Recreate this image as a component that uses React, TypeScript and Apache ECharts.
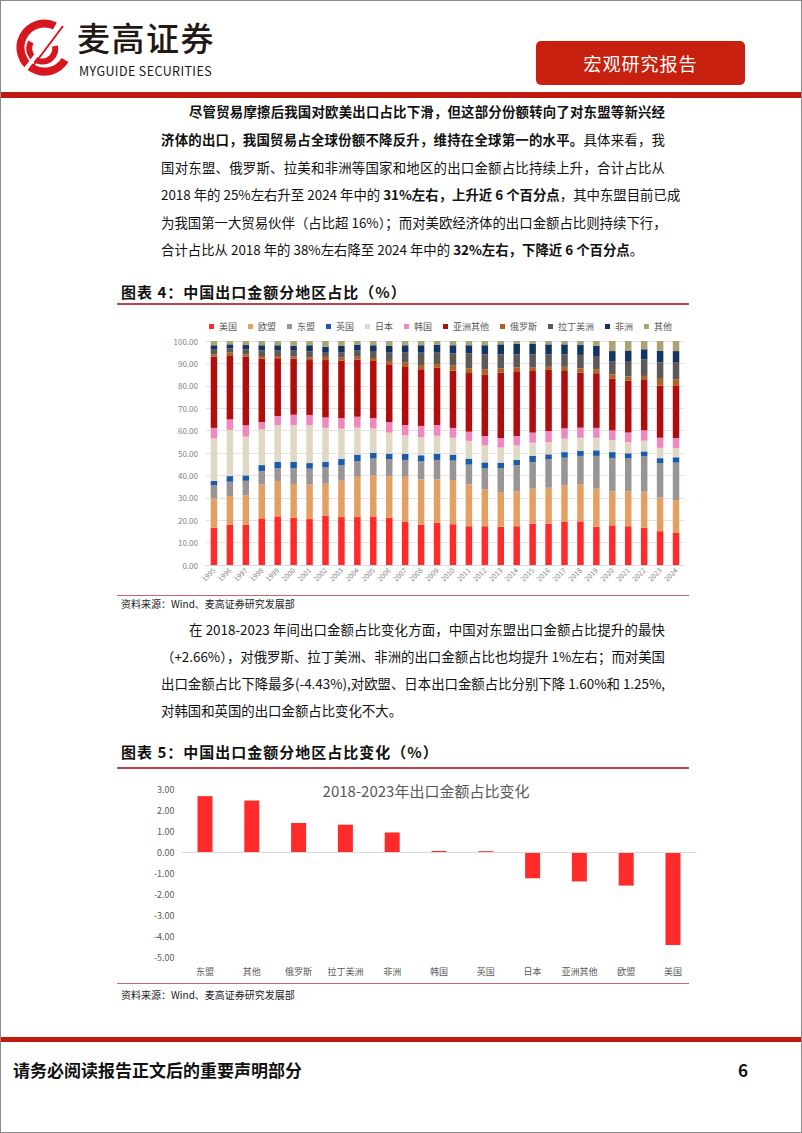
import React, { useEffect, useRef } from "react";
import * as echarts from "echarts";

const years = ["1995","1996","1997","1998","1999","2000","2001","2002","2003","2004","2005","2006","2007","2008","2009","2010","2011","2012","2013","2014","2015","2016","2017","2018","2019","2020","2021","2022","2023","2024"];
const seriesNames = ["美国","欧盟","东盟","英国","日本","韩国","亚洲其他","俄罗斯","拉丁美洲","非洲","其他"];
const seriesColors = ["#FF2B2B","#E4A063","#9A9494","#1B5BAA","#DED8C5","#EE88BE","#B00E0E","#AE6322","#5E5856","#143563","#ADA274"];
const usShare = [16.7,18.0,18.0,20.8,21.7,21.1,20.5,21.9,21.4,21.4,21.7,21.1,19.2,18.0,18.8,18.2,17.3,17.3,17.1,17.3,18.5,18.5,19.2,19.5,17.1,17.7,17.3,16.7,15.1,14.3];
const euShare = [13.1,12.8,13.1,15.2,15.8,15.1,15.4,14.4,16.2,18.0,18.3,18.6,20.2,20.2,19.4,19.7,18.7,16.5,15.2,15.7,15.6,16.0,16.4,16.4,17.0,15.2,15.6,16.0,15.0,14.7];
const aseanShare = [5.9,6.4,6.5,6.0,5.7,7.0,7.1,7.3,6.9,7.0,7.6,7.5,7.5,8.1,8.7,8.7,8.8,9.5,10.9,11.6,11.9,12.7,12.3,12.8,14.6,14.9,14.6,15.8,15.3,16.7];
const ukShare = [1.8,2.5,2.4,2.6,2.8,2.8,2.5,2.5,2.8,2.9,2.5,2.5,2.7,2.7,2.8,2.7,2.7,2.5,2.5,2.3,2.7,2.2,2.5,2.3,2.5,2.6,2.4,2.2,2.3,2.4];
const japanShare = [19.0,20.6,17.3,16.0,16.4,16.5,16.9,15.2,13.6,12.0,10.8,9.4,8.3,8.0,8.0,7.5,7.9,7.6,6.7,6.5,5.9,5.5,6.0,5.8,5.6,5.4,5.0,4.8,4.6,4.1];
const koreaShare = [4.7,4.7,5.1,3.2,4.1,4.6,4.6,4.6,4.7,4.9,4.7,4.7,4.6,5.1,4.8,4.4,4.1,4.2,4.3,4.2,4.5,4.9,4.6,4.5,4.4,4.3,4.2,4.6,4.5,4.5];
const asiaOtherShare = [31.8,28.3,30.6,28.3,25.8,25.0,24.5,25.6,25.6,25.5,25.5,25.8,25.9,25.3,25.7,25.6,26.2,27.5,29.2,28.9,27.5,27.3,25.6,24.6,24.4,23.2,23.3,22.8,23.3,23.5];
const russiaShare = [1.0,1.5,1.0,1.2,1.0,0.9,1.1,1.4,1.4,1.3,1.3,1.5,1.9,1.9,1.5,2.2,2.1,2.3,1.9,1.7,1.5,1.4,1.9,1.9,1.8,1.8,1.8,1.5,3.0,2.7];
const latamShare = [2.1,1.8,2.3,2.5,2.4,2.7,2.8,2.2,2.2,2.7,3.1,3.7,4.5,5.5,5.1,5.5,6.7,6.6,6.2,5.8,5.9,5.5,5.5,6.0,5.9,5.7,6.9,7.4,7.4,7.7];
const africaShare = [2.0,1.9,1.9,2.3,2.4,2.2,2.7,2.4,3.0,2.7,2.6,3.0,3.3,3.3,3.6,3.6,3.6,4.1,4.5,4.7,4.7,4.5,4.5,4.4,4.5,4.7,4.4,4.5,5.2,4.9];
const otherShare = [1.9,1.5,1.8,1.9,1.9,2.1,1.9,2.5,2.2,1.6,1.9,2.2,1.9,1.9,1.6,1.9,1.9,1.9,1.5,1.3,1.3,1.5,1.5,1.8,2.2,4.5,4.5,3.7,4.3,4.5];
const shareData = [usShare, euShare, aseanShare, ukShare, japanShare, koreaShare, asiaOtherShare, russiaShare, latamShare, africaShare, otherShare];

const changeRegions = ["东盟","其他","俄罗斯","拉丁美洲","非洲","韩国","英国","日本","亚洲其他","欧盟","美国"];
const changeValues = [2.66, 2.45, 1.38, 1.30, 0.93, 0.05, 0.04, -1.25, -1.40, -1.60, -4.43];
const chart2Title = "2018-2023年出口金额占比变化";

const FONT = '"Noto Sans CJK SC", "Noto Sans", sans-serif';

function ShareChart() {
  const ref = useRef<HTMLDivElement>(null);
  useEffect(() => {
    const chart = echarts.init(ref.current!, null, { renderer: "svg" });
    chart.setOption({
      animation: false,
      textStyle: { fontFamily: FONT },
      legend: {
        data: seriesNames,
        left: 85,
        top: 8,
        itemWidth: 5,
        itemHeight: 5,
        itemGap: 11,
        icon: "rect",
        textStyle: { fontSize: 9, color: "#595959", fontFamily: FONT },
      },
      grid: { left: 87, right: 5, top: 32, bottom: 29 },
      xAxis: {
        type: "category",
        data: years,
        axisLine: { lineStyle: { color: "#D9D9D9" } },
        axisTick: { lineStyle: { color: "#D9D9D9" } },
        axisLabel: { interval: 0, rotate: 45, fontSize: 7, color: "#7F7F7F", margin: 4 },
      },
      yAxis: {
        type: "value",
        min: 0,
        max: 100,
        interval: 10,
        axisLabel: { fontSize: 8, color: "#7F7F7F", formatter: (v: number) => v.toFixed(2), margin: 8 },
        axisLine: { show: false },
        axisTick: { show: false },
        splitLine: { lineStyle: { color: "#E3E3E3" } },
      },
      series: seriesNames.map((name, i) => ({
        name,
        type: "bar",
        stack: "total",
        barWidth: 6.5,
        itemStyle: { color: seriesColors[i] },
        data: shareData[i],
      })),
    });
    return () => chart.dispose();
  }, []);
  return <div ref={ref} style={{ position: "absolute", left: 118, top: 308, width: 570, height: 285 }} />;
}

function ChangeChart() {
  const ref = useRef<HTMLDivElement>(null);
  useEffect(() => {
    const chart = echarts.init(ref.current!, null, { renderer: "svg" });
    chart.setOption({
      animation: false,
      textStyle: { fontFamily: FONT },
      title: {
        text: chart2Title,
        left: 302,
        textAlign: "center",
        top: 9,
        textStyle: { fontSize: 15, fontWeight: "normal", color: "#595959", fontFamily: FONT },
      },
      grid: { left: 62.6, right: 12.6, top: 20, bottom: 27 },
      xAxis: {
        type: "category",
        data: changeRegions,
        axisLine: { show: false, onZero: false },
        axisTick: { show: false },
        axisLabel: { interval: 0, fontSize: 9, color: "#595959", margin: 10 },
      },
      yAxis: {
        type: "value",
        min: -5,
        max: 3,
        interval: 1,
        axisLabel: { fontSize: 9, color: "#595959", formatter: (v: number) => v.toFixed(2), margin: 7 },
        axisLine: { show: false },
        axisTick: { show: false },
        splitLine: { show: false },
      },
      series: [
        {
          type: "bar",
          barWidth: 15,
          itemStyle: { color: "#FF2B2B" },
          data: changeValues,
          markLine: {
            silent: true,
            symbol: "none",
            label: { show: false },
            lineStyle: { color: "#D9D9D9", type: "solid", width: 1 },
            data: [{ yAxis: 0 }],
          },
        },
      ],
    });
    return () => chart.dispose();
  }, []);
  return <div ref={ref} style={{ position: "absolute", left: 118, top: 768, width: 590, height: 215 }} />;
}

const textBase: React.CSSProperties = {
  position: "absolute",
  fontFamily: FONT,
  fontSize: 13.4,
  lineHeight: "20px",
  color: "#111",
  whiteSpace: "nowrap",
};

function Line({ top, left = 160, justify = true, children }: { top: number; left?: number; justify?: boolean; children: React.ReactNode }) {
  const w = 664 - left;
  return (
    <div
      style={{
        ...textBase,
        top: top - 10,
        left,
        width: w,
        textAlign: justify ? "justify" : "left",
        textAlignLast: justify ? "justify" : "auto",
      } as React.CSSProperties}
    >
      {children}
    </div>
  );
}

const B = ({ children }: { children: React.ReactNode }) => <b style={{ fontWeight: 700 }}>{children}</b>;

function Logo() {
  return (
    <svg width={64} height={64} style={{ position: "absolute", left: 10, top: 15 }} viewBox="0 0 64 64">
      <path d="M44 10 A24 24 0 1 0 54 44" fill="none" stroke="#D7171F" strokeWidth={8} />
      <path d="M20 26 A13 13 0 1 0 44 30" fill="none" stroke="#D7171F" strokeWidth={6} />
      <path d="M14 54 L50 6" stroke="#fff" strokeWidth={4} />
      <path d="M22 50 L52 10" stroke="#D7171F" strokeWidth={2} />
    </svg>
  );
}

export default function App() {
  return (
    <div
      style={{
        position: "absolute",
        left: 0,
        top: 0,
        width: 802,
        height: 1133,
        background: "#fff",
        boxSizing: "border-box",
        border: "1px solid #8c8c8c",
        overflow: "hidden",
        fontFamily: FONT,
      }}
    >
      <Logo />
      <div style={{ position: "absolute", left: 76, top: 19, fontSize: 33, lineHeight: "34px", color: "#231815", fontWeight: 500, letterSpacing: 1.5, fontFamily: FONT }}>麦高证券</div>
      <div style={{ position: "absolute", left: 78, top: 63, fontSize: 12.5, lineHeight: "13px", color: "#231815", letterSpacing: 0.4, fontFamily: FONT }}>MYGUIDE SECURITIES</div>
      <div style={{ position: "absolute", left: 535, top: 40, width: 209, height: 44, background: "#C8200E", borderRadius: 5, color: "#fff", fontSize: 18, lineHeight: "44px", textAlign: "center", letterSpacing: 1, fontFamily: FONT }}>宏观研究报告</div>
      <div style={{ position: "absolute", left: 0, top: 91, width: 802, height: 6, background: "#C01A10" }} />

      <Line top={110} left={188}><B>尽管贸易摩擦后我国对欧美出口占比下滑，但这部分份额转向了对东盟等新兴经</B></Line>
      <Line top={138}><B>济体的出口，我国贸易占全球份额不降反升，维持在全球第一的水平。</B>具体来看，我</Line>
      <Line top={166}>国对东盟、俄罗斯、拉美和非洲等国家和地区的出口金额占比持续上升，合计占比从</Line>
      <Line top={193}>2018 年的 25%左右升至 2024 年中的 <B>31%左右，上升近 6 个百分点</B>，其中东盟目前已成</Line>
      <Line top={221}>为我国第一大贸易伙伴（占比超 16%）；而对美欧经济体的出口金额占比则持续下行，</Line>
      <Line top={248} justify={false}>合计占比从 2018 年的 38%左右降至 2024 年中的 <B>32%左右，下降近 6 个百分点</B>。</Line>

      <div style={{ position: "absolute", left: 120, top: 281, fontSize: 15, lineHeight: "20px", fontWeight: 700, letterSpacing: 1, color: "#111", fontFamily: FONT }}>图表 4：中国出口金额分地区占比（%）</div>
      <div style={{ position: "absolute", left: 116, top: 302, width: 572, height: 2, background: "#B5474B" }} />
      <ShareChart />
      <div style={{ position: "absolute", left: 116, top: 594, width: 572, height: 1, background: "#C9686B" }} />
      <div style={{ position: "absolute", left: 120, top: 597, fontSize: 10, lineHeight: "12px", color: "#222", fontFamily: FONT }}>资料来源：Wind、麦高证券研究发展部</div>

      <Line top={628} left={188}>在 2018-2023 年间出口金额占比变化方面，中国对东盟出口金额占比提升的最快</Line>
      <Line top={655}>（+2.66%），对俄罗斯、拉丁美洲、非洲的出口金额占比也均提升 1%左右；而对美国</Line>
      <Line top={682}>出口金额占比下降最多(-4.43%),对欧盟、日本出口金额占比分别下降 1.60%和 1.25%,</Line>
      <Line top={709} justify={false}>对韩国和英国的出口金额占比变化不大。</Line>

      <div style={{ position: "absolute", left: 120, top: 741, fontSize: 15, lineHeight: "20px", fontWeight: 700, letterSpacing: 1, color: "#111", fontFamily: FONT }}>图表 5：中国出口金额分地区占比变化（%）</div>
      <div style={{ position: "absolute", left: 116, top: 766, width: 572, height: 2, background: "#B5474B" }} />
      <ChangeChart />
      <div style={{ position: "absolute", left: 116, top: 982, width: 572, height: 1, background: "#C9686B" }} />
      <div style={{ position: "absolute", left: 120, top: 988, fontSize: 10, lineHeight: "12px", color: "#222", fontFamily: FONT }}>资料来源：Wind、麦高证券研究发展部</div>

      <div style={{ position: "absolute", left: 0, top: 1036, width: 802, height: 5, background: "#C01A10" }} />
      <div style={{ position: "absolute", left: 12, top: 1058, fontSize: 17, lineHeight: "22px", fontWeight: 700, color: "#111", fontFamily: FONT }}>请务必阅读报告正文后的重要声明部分</div>
      <div style={{ position: "absolute", left: 737, top: 1058, fontSize: 17, lineHeight: "22px", fontWeight: 700, color: "#111", fontFamily: FONT }}>6</div>
    </div>
  );
}
